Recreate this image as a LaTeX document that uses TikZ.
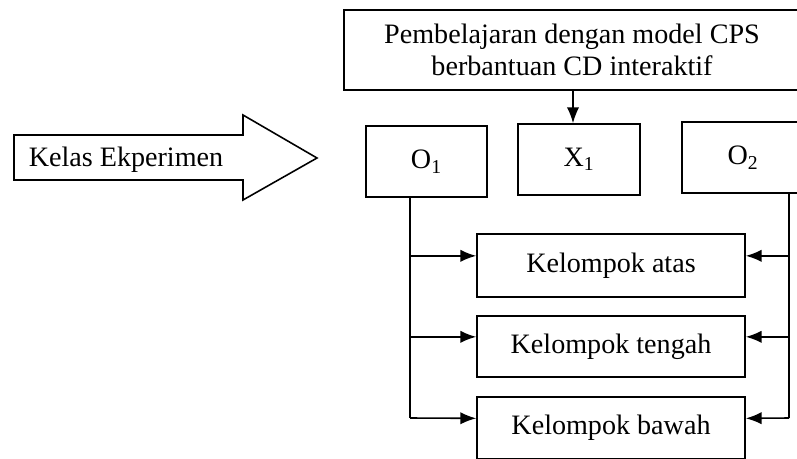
\documentclass[tikz,border=0pt]{standalone}
\usepackage{fontspec}
\setmainfont{Liberation Serif}
\usetikzlibrary{arrows.meta}

\begin{document}
\begin{tikzpicture}[x=0.02cm, y=-0.02cm, line width=0.9pt,
  box/.style={draw, fill=white, inner sep=0pt, font=\fontsize{16}{18.5}\selectfont},
  link/.style={-{Latex[length=9pt,width=7pt]}}]
\clip (0,0) rectangle (797,459);
\node (cps) [box, minimum width=456*0.02cm, minimum height=80*0.02cm, align=center] at (572,50)
  {Pembelajaran dengan model CPS\\berbantuan CD interaktif};
\node (o1) [box, minimum width=121*0.02cm, minimum height=71*0.02cm] at (426.5,161.5) {O\textsubscript{1}};
\node (x1) [box, minimum width=122*0.02cm, minimum height=71*0.02cm] at (579,159.5) {X\textsubscript{1}};
\node (o2) [box, minimum width=122*0.02cm, minimum height=71*0.02cm] at (743,157.5) {O\textsubscript{2}};
\node (atas) [box, minimum width=268*0.02cm, minimum height=63*0.02cm] at (611,265.5) {Kelompok atas};
\node (tengah) [box, minimum width=268*0.02cm, minimum height=61*0.02cm] at (611,346.5) {Kelompok tengah};
\node (bawah) [box, minimum width=268*0.02cm, minimum height=62*0.02cm] at (611,428) {Kelompok bawah};
\draw (14,135) -- (243,135) -- (243,115) -- (317,158) -- (243,200) -- (243,180) -- (14,180) -- cycle;
\node (kelas) [font=\fontsize{16}{18.5}\selectfont] at (126,160) {Kelas Ekperimen};
\draw[link] (cps.south -| 573,0) -- (x1.north -| 573,0);
\coordinate (l) at (410,418);
\coordinate (r) at (789,418);
\coordinate (atas-w) at ([yshift=5.5pt]atas.west);
\coordinate (atas-e) at ([yshift=5.5pt]atas.east);
\coordinate (tengah-w) at ([yshift=5.5pt]tengah.west);
\coordinate (tengah-e) at ([yshift=5.5pt]tengah.east);
\coordinate (bawah-w) at ([yshift=5.5pt]bawah.west);
\coordinate (bawah-e) at ([yshift=5.5pt]bawah.east);
\draw (o1.south -| l) -- (l);
\draw (o2.south -| r) -- (r);
\draw[link] (l |- atas-w) -- (atas-w);
\draw[link] (l |- tengah-w) -- (tengah-w);
\draw[link] (l) -- (bawah-w);
\draw[link] (r |- atas-e) -- (atas-e);
\draw[link] (r |- tengah-e) -- (tengah-e);
\draw[link] (r) -- (bawah-e);
\end{tikzpicture}
\end{document}
